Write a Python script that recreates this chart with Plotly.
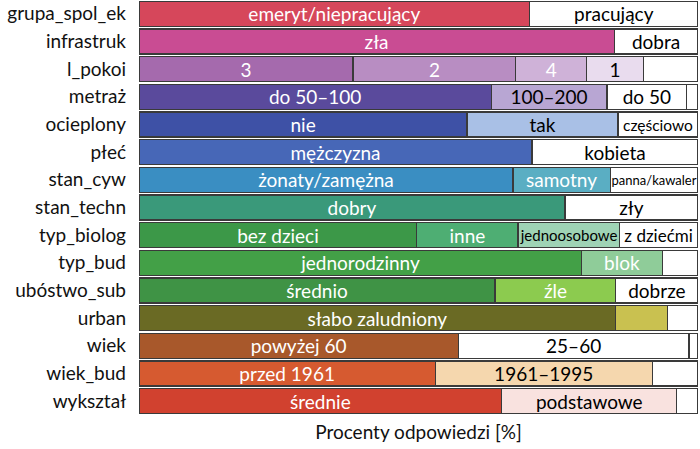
import plotly.graph_objects as go

categories = ["grupa_spol_ek", "infrastruk", "l_pokoi", "metraż", "ocieplony", "płeć",
              "stan_cyw", "stan_techn", "typ_biolog", "typ_bud", "ubóstwo_sub", "urban",
              "wiek", "wiek_bud", "wykształ"]

seg1_vals = [69.9, 85.0, 38.3, 63.0, 58.7, 70.3, 66.9, 76.2, 49.7, 79.1, 63.7, 85.3, 57.1, 53.0, 64.9]
seg2_vals = [30.1, 15.0, 29.1, 20.7, 27.0, 29.7, 17.4, 23.8, 18.1, 14.6, 21.6, 9.2, 41.3, 38.8, 31.3]
seg3_vals = [0, 0, 12.7, 14.3, 14.3, 0, 15.7, 0, 18.1, 6.3, 14.7, 5.5, 1.6, 8.2, 3.8]
seg4_vals = [0, 0, 10.1, 2.0, 0, 0, 0, 0, 14.1, 0, 0, 0, 0, 0, 0]
seg5_vals = [0, 0, 9.8, 0, 0, 0, 0, 0, 0, 0, 0, 0, 0, 0, 0]

seg1_labels = ["emeryt/niepracujący", "zła", "3", "do 50–100", "nie", "mężczyzna",
               "żonaty/zamężna", "dobry", "bez dzieci", "jednorodzinny", "średnio",
               "słabo zaludniony", "powyżej 60", "przed 1961", "średnie"]
seg2_labels = ["pracujący", "dobra", "2", "100–200", "tak", "kobieta", "samotny", "zły",
               "inne", "blok", "źle", "", "25–60", "1961–1995", "podstawowe"]
seg3_labels = ["", "", "4", "do 50", "częściowo", "", "panna/kawaler", "", "jednoosobowe",
               "", "dobrze", "", "", "", ""]
seg4_labels = ["", "", "1", "", "", "", "", "", "z dziećmi", "", "", "", "", "", ""]
seg5_labels = [""] * 15

W = "#FFFFFF"
seg1_colors = ["#D6475B", "#C94C93", "#A56AAD", "#5A4A9C", "#3E51A6", "#4767B7", "#3A8EC2",
               "#3A997A", "#3C9848", "#43A047", "#3F9345", "#6A6A24", "#A8582B", "#D65A30", "#D1412F"]
seg2_colors = [W, W, "#B88DC2", "#B8A6D3", "#A9C0E6", W, "#5AAEC3", W, "#4EAE73", "#8FCC99",
               "#8CCB4F", "#C9C150", W, "#F5D7AE", "#F9E2DF"]
seg3_colors = [W, W, "#CFB2D8", W, W, W, W, W, "#9FD3B5", W, W, W, W, W, W]
seg4_colors = [W, W, "#E9DCEE", W, W, W, W, W, W, W, W, W, W, W, W]
seg5_colors = [W] * 15

seg1_text = ["white"] * 15
seg2_text = ["black", "black", "white", "black", "black", "black", "white", "black", "white",
             "white", "white", "black", "black", "black", "black"]
seg3_text = ["black", "black", "white", "black", "black", "black", "black", "black", "black",
             "black", "black", "black", "black", "black", "black"]
seg4_text = ["black"] * 15
seg5_text = ["black"] * 15

S = 19
seg1_sizes = [S] * 15
seg2_sizes = [S] * 15
seg3_sizes = [S, S, S, S, 15.5, S, 13, S, 15, S, S, S, S, S, S]
seg4_sizes = [S, S, S, S, S, S, S, S, 17, S, S, S, S, S, S]
seg5_sizes = [S] * 15

FONT = "Lato, 'Open Sans', sans-serif"

fig = go.Figure()
for vals, labels, colors, tcols, sizes in [
    (seg1_vals, seg1_labels, seg1_colors, seg1_text, seg1_sizes),
    (seg2_vals, seg2_labels, seg2_colors, seg2_text, seg2_sizes),
    (seg3_vals, seg3_labels, seg3_colors, seg3_text, seg3_sizes),
    (seg4_vals, seg4_labels, seg4_colors, seg4_text, seg4_sizes),
    (seg5_vals, seg5_labels, seg5_colors, seg5_text, seg5_sizes),
]:
    fig.add_trace(go.Bar(
        y=categories, x=vals, orientation="h",
        text=labels, textposition="inside", insidetextanchor="middle", textangle=0,
        constraintext="none",
        textfont=dict(family=FONT, size=sizes, color=tcols),
        marker=dict(color=colors, line=dict(color="#3a3a3a", width=1.3)),
        hoverinfo="skip", showlegend=False,
    ))

fig.update_layout(
    barmode="stack", bargap=0.1,
    width=700, height=449,
    margin=dict(l=139, r=2, t=0, b=34),
    paper_bgcolor="white", plot_bgcolor="white",
    font=dict(family=FONT, size=19, color="#111111"),
    xaxis=dict(range=[0, 100], showticklabels=False, showgrid=False, zeroline=False,
               ticks="", title=dict(text="Procenty odpowiedzi [%]", standoff=10,
                                    font=dict(size=19))),
    yaxis=dict(autorange="reversed", showgrid=False, ticks="", ticklabelstandoff=12,
               tickfont=dict(size=19)),
)

fig.write_html("out.html")
